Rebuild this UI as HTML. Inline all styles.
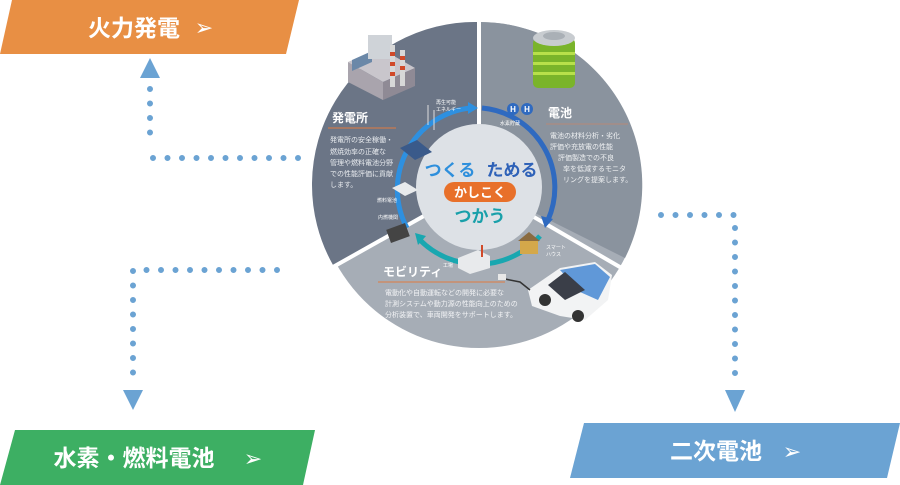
<!DOCTYPE html>
<html><head><meta charset="utf-8"><style>
html,body{margin:0;padding:0;background:#fff;}
body{width:900px;height:485px;position:relative;overflow:hidden;font-family:"Liberation Sans","Noto Sans CJK JP",sans-serif;}
svg{position:absolute;left:0;top:0;}
</style></head><body>
<svg width="900" height="485" viewBox="0 0 900 485" font-family="Liberation Sans, Noto Sans CJK JP, sans-serif">
<!-- banners -->
<polygon points="12,0 299,0 286,54 0,54" fill="#e88f44"/>
<text x="134" y="36" font-size="23" font-weight="bold" fill="#fff" text-anchor="middle">火力発電</text>
<text x="204" y="35" font-size="22" fill="#fff" text-anchor="middle">➢</text>
<polygon points="15,430 315,430 303,485 0,485" fill="#3daf63"/>
<text x="134" y="466" font-size="23" font-weight="bold" fill="#fff" text-anchor="middle">水素・燃料電池</text>
<text x="253" y="466" font-size="22" fill="#fff" text-anchor="middle">➢</text>
<polygon points="584,423 900,423 887,478 570,478" fill="#6ba3d3"/>
<text x="716" y="459" font-size="23" font-weight="bold" fill="#fff" text-anchor="middle">二次電池</text>
<text x="792" y="459" font-size="22" fill="#fff" text-anchor="middle">➢</text>
<!-- dotted connectors -->
<g fill="#6ba3d3">
<polygon points="150,58 140,78 160,78"/>
<polygon points="133,410 123,390 143,390"/>
<polygon points="735,412 725,390 745,390"/>
</g>
<g stroke="#6ba3d3" stroke-width="6" stroke-linecap="round" stroke-dasharray="0 14.5" fill="none">
<path d="M150,89 L150,147"/>
<path d="M153,158 L300,158"/>
<path d="M277,270 L133,270 L133,385"/>
<path d="M661,215 L735,215 L735,378"/>
</g>
<!-- circle sectors -->
<circle cx="479" cy="185" r="163" fill="#a6adb6"/>
<path d="M479,185 L479,22 A163,163 0 0 1 625,258 Z" fill="#8a939e"/>
<path d="M479,185 L479,22 A163,163 0 0 0 333,265 Z" fill="#6b7586"/>
<g stroke="#fff" stroke-width="4">
<line x1="479" y1="185" x2="479" y2="20"/>
<line x1="479" y1="185" x2="333" y2="267"/>
<line x1="479" y1="185" x2="625" y2="270"/>
</g>
<circle cx="479" cy="187" r="63" fill="#dde1e6"/>
<!-- ring arcs -->
<path d="M407,228 A82,82 0 0 1 470,108" stroke="#2e90e0" stroke-width="5" fill="none"/>
<polygon points="478,108 468,102 468,114" fill="#2e90e0"/>
<path d="M482,108 A80,80 0 0 1 548,220" stroke="#2f6ac0" stroke-width="5" fill="none"/>
<polygon points="545,228 541,216 553,219" fill="#2f6ac0"/>
<path d="M540,236 A82,82 0 0 1 420,240" stroke="#19a7b0" stroke-width="5" fill="none"/>
<polygon points="415,233 426,236 418,245" fill="#19a7b0"/>
<!-- center texts -->
<text x="450" y="176" font-size="17" font-weight="bold" fill="#2e8fdc" text-anchor="middle">つくる</text>
<text x="512" y="176" font-size="17" font-weight="bold" fill="#2f62b8" text-anchor="middle">ためる</text>
<rect x="444" y="182" width="72" height="20" rx="10" fill="#e8702a"/>
<text x="480" y="197" font-size="13" font-weight="bold" fill="#fff" text-anchor="middle">かしこく</text>
<text x="480" y="222" font-size="17" font-weight="bold" fill="#19a0aa" text-anchor="middle">つかう</text>
<!-- sector texts -->
<text x="332" y="122" font-size="12" font-weight="bold" fill="#fff">発電所</text>
<line x1="328" y1="128" x2="396" y2="128" stroke="#e07a40" stroke-width="1"/>
<g font-size="7" fill="#e8ebef">
<text x="330" y="142">発電所の安全稼働・</text>
<text x="330" y="154">燃焼効率の正確な</text>
<text x="330" y="165">管理や燃料電池分野</text>
<text x="330" y="176">での性能評価に貢献</text>
<text x="330" y="187">します。</text>
</g>
<text x="548" y="117" font-size="12" font-weight="bold" fill="#fff">電池</text>
<line x1="546" y1="124" x2="628" y2="124" stroke="#b58a78" stroke-width="1"/>
<g font-size="7" fill="#eef0f2">
<text x="550" y="138">電池の材料分析・劣化</text>
<text x="550" y="149">評価や充放電の性能</text>
<text x="558" y="160">評価製造での不良</text>
<text x="563" y="171">率を低減するモニタ</text>
<text x="563" y="182">リングを提案します。</text>
</g>
<text x="383" y="276" font-size="12" font-weight="bold" fill="#fff">モビリティ</text>
<line x1="378" y1="282" x2="505" y2="282" stroke="#e07a40" stroke-width="1"/>
<g font-size="7" fill="#f2f3f5">
<text x="385" y="295">電動化や自動運転などの開発に必要な</text>
<text x="385" y="306">計測システムや動力源の性能向上のための</text>
<text x="385" y="317">分析装置で、車両開発をサポートします。</text>
</g>
<!-- small labels -->
<g font-size="5" fill="#fff">
<text x="436" y="104">再生可能</text><text x="436" y="111">エネルギー</text>
<text x="500" y="125">水素貯蔵</text>
<text x="377" y="202">燃料電池</text>
<text x="378" y="219">内燃機関</text>
<text x="443" y="267">工場</text>
<text x="546" y="249">スマート</text><text x="546" y="256">ハウス</text>
</g>
<!-- illustrations -->
<g>
<polygon points="348,62 380,48 415,68 383,82" fill="#c9c6cc"/>
<polygon points="348,62 383,82 383,100 348,82" fill="#a9a4ad"/>
<polygon points="383,82 415,68 415,86 383,100" fill="#8f8a95"/>
<polygon points="352,60 372,51 372,62 352,71" fill="#6b88a8"/>
<rect x="368" y="35" width="24" height="24" fill="#cfd3d8"/>
<rect x="390" y="45" width="5" height="42" fill="#d8d8d8"/><rect x="390" y="52" width="5" height="4" fill="#d04a2a"/><rect x="390" y="62" width="5" height="4" fill="#d04a2a"/><rect x="390" y="72" width="5" height="4" fill="#d04a2a"/>
<rect x="400" y="50" width="5" height="36" fill="#d8d8d8"/><rect x="400" y="56" width="5" height="4" fill="#d04a2a"/><rect x="400" y="66" width="5" height="4" fill="#d04a2a"/>
<rect x="533" y="38" width="42" height="50" rx="5" fill="#7ab42a"/>
<ellipse cx="554" cy="38" rx="21" ry="8" fill="#c8ccd0"/>
<ellipse cx="554" cy="36" rx="11" ry="4" fill="#aab0b6"/>
<rect x="533" y="52" width="42" height="3" fill="#b8e04a"/><rect x="533" y="62" width="42" height="3" fill="#b8e04a"/><rect x="533" y="72" width="42" height="3" fill="#b8e04a"/>
<circle cx="513" cy="109" r="6" fill="#2f6ac0"/><circle cx="527" cy="109" r="6" fill="#2f6ac0"/>
<text x="513" y="112" font-size="8" font-weight="bold" fill="#fff" text-anchor="middle">H</text>
<text x="527" y="112" font-size="8" font-weight="bold" fill="#fff" text-anchor="middle">H</text>
<line x1="428" y1="125" x2="428" y2="105" stroke="#ddd" stroke-width="1"/>
<line x1="434" y1="130" x2="434" y2="110" stroke="#ddd" stroke-width="1"/>
<polygon points="400,148 417,140 432,152 415,160" fill="#3a5a8a"/>
<polygon points="392,188 405,182 418,190 405,196" fill="#e8eaec"/>
<rect x="388" y="226" width="20" height="14" fill="#444" transform="rotate(-20 398 233)"/>
<polygon points="458,258 478,250 490,256 490,268 470,274 458,268" fill="#e8eaec"/>
<rect x="481" y="245" width="2" height="12" fill="#d04a2a"/>
<rect x="520" y="240" width="18" height="14" fill="#d4a84a"/>
<polygon points="518,241 529,232 540,241" fill="#8a6b40"/>
<path d="M528,290 L560,268 L595,262 L612,275 L608,300 L585,320 L560,316 L532,306 Z" fill="#f2f3f4"/>
<path d="M560,270 L595,264 L610,277 L598,300 L580,292 Z" fill="#6098d8"/>
<path d="M548,285 L565,272 L585,290 L565,300 Z" fill="#3a3e48"/>
<circle cx="545" cy="300" r="6" fill="#333"/><circle cx="578" cy="316" r="6" fill="#333"/>
<path d="M500,278 L520,282 L530,290" stroke="#333" stroke-width="1.5" fill="none"/>
<rect x="498" y="274" width="8" height="6" fill="#e8e8e8"/>
</g>
</svg>
</body></html>
